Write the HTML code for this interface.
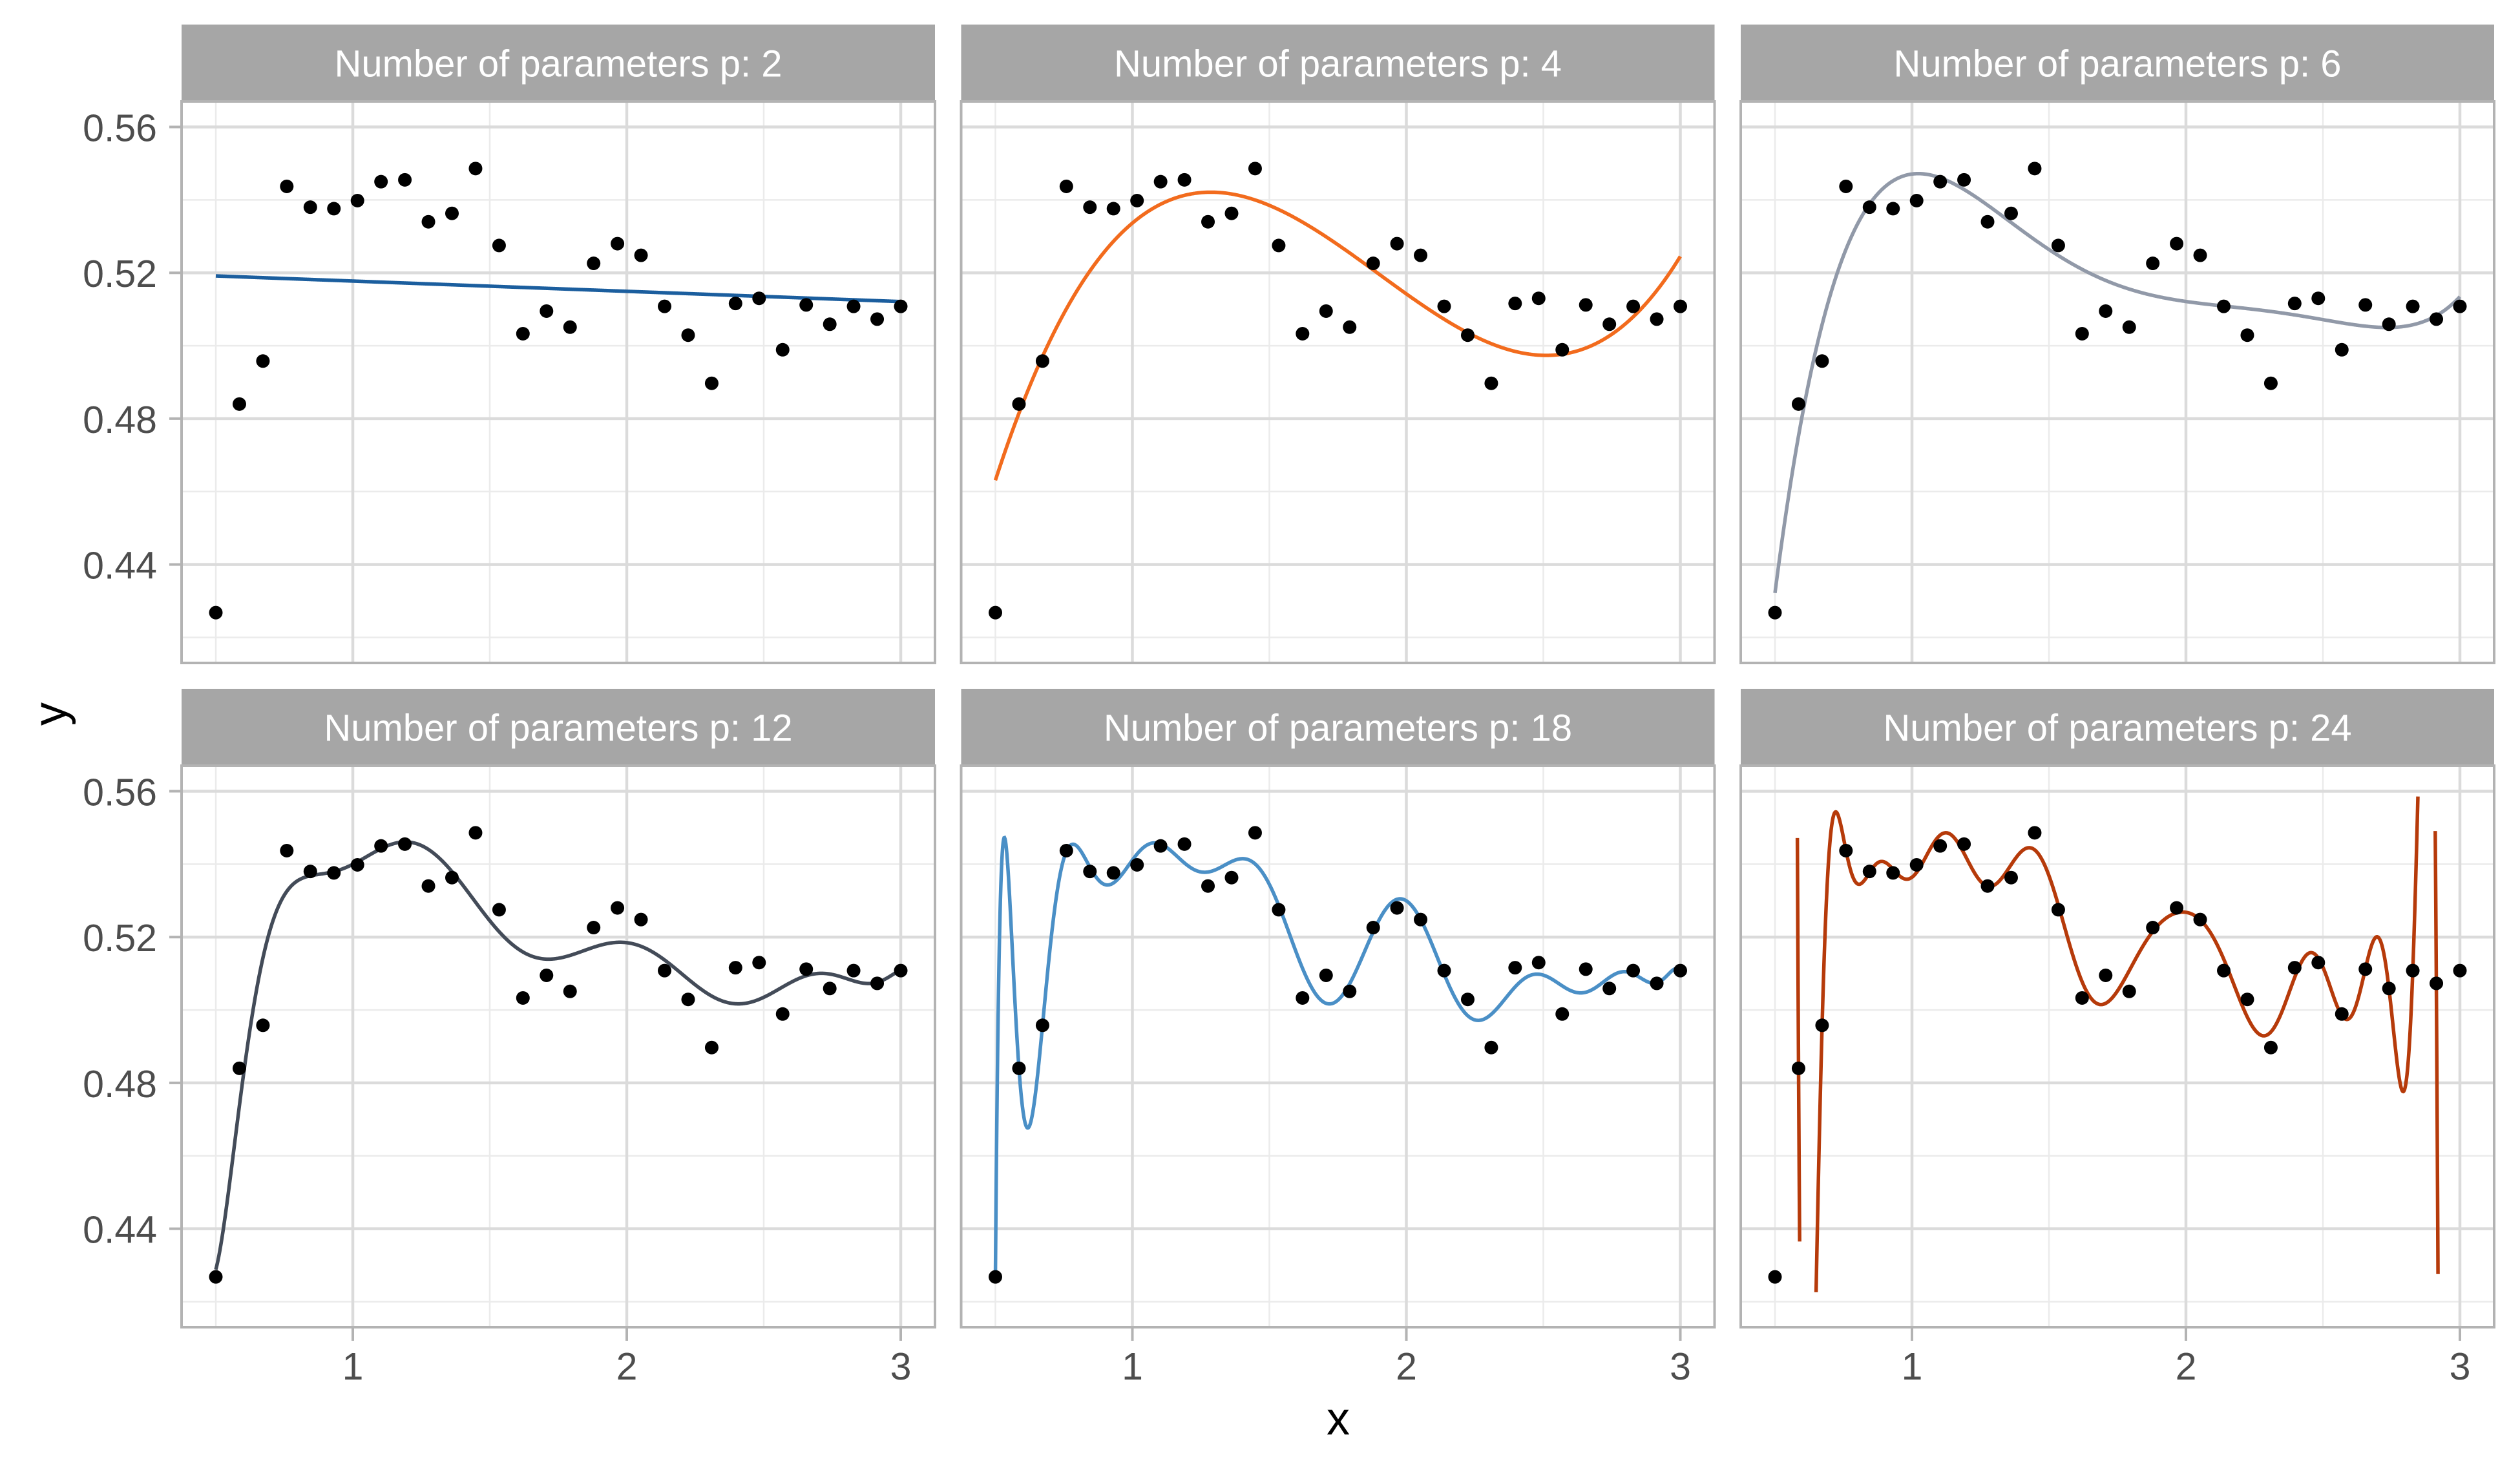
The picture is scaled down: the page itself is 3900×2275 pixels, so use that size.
<!DOCTYPE html>
<html><head><meta charset="utf-8"><style>
html,body{margin:0;padding:0;background:#fff;overflow:hidden;}
svg{display:block;font-family:"Liberation Sans",sans-serif;}
</style></head><body>
<svg id="chart" width="3900" height="2275" viewBox="0 0 3900 2275" xmlns="http://www.w3.org/2000/svg">
<rect x="0" y="0" width="3900" height="2275" fill="#fff"/>
<text x="2071" y="2220" font-size="72" text-anchor="middle" fill="#000">x</text>
<text x="102" y="1105" font-size="72" text-anchor="middle" fill="#000" transform="rotate(-90 102 1105)">y</text>
</svg>
<script>
const xValues = [0.5,0.586,0.672,0.759,0.845,0.931,1.017,1.103,1.190,1.276,1.362,1.448,1.534,1.621,1.707,1.793,1.879,1.966,2.052,2.138,2.224,2.310,2.397,2.483,2.569,2.655,2.741,2.828,2.914,3.0];
const yValues = [0.4268,0.484,0.4958,0.5437,0.538,0.5376,0.5398,0.545,0.5455,0.534,0.5363,0.5486,0.5275,0.5033,0.5095,0.5051,0.5226,0.528,0.5248,0.5108,0.5029,0.4897,0.5116,0.513,0.4989,0.5112,0.5059,0.5108,0.5073,0.5108];
const paramCounts = [2,4,6,12,18,24];
const lineColors = ['#1B5E9E','#F26B1D','#9199A8','#434B58','#4A8FC6','#B63A0A'];
const xTicks = [1,2,3];
const xTickLabels = ['1','2','3'];
const xMinor = [0.5,1.5,2.5];
const yTicks = [0.44,0.48,0.52,0.56];
const yTickLabels = ['0.44','0.48','0.52','0.56'];
const yMinor = [0.42,0.46,0.50,0.54];
const yLimits = [0.42,0.56];

const svg = document.getElementById('chart');
const NS = 'http://www.w3.org/2000/svg';
function mk(tag, attrs, parent){const e=document.createElementNS(NS,tag);for(const k in attrs)e.setAttribute(k,attrs[k]);(parent||svg).appendChild(e);return e;}

const colsX=[281,1487.5,2694], W=1166;
const rowsY=[{s:38,p:157,b:1026},{s:1066,p:1185,b:2054}];
const xDom=[0.375,3.125], yDom=[0.413,0.567];

function T(k,t){let a=1,b=t;if(k===0)return 1;for(let i=1;i<k;i++){const c=2*t*b-a;a=b;b=c;}return b;}
function tt(x){return (x-1.75)/1.25;}
function fit(p){
  const n=xValues.length;
  const A=[];for(let k=0;k<p;k++){A.push(xValues.map(x=>T(k,tt(x))));}
  const Q=[],R=[];for(let i=0;i<p;i++)R.push(new Array(p).fill(0));
  for(let k=0;k<p;k++){
    let v=A[k].slice();
    for(let pass=0;pass<2;pass++){for(let j=0;j<k;j++){let d=0;for(let i=0;i<n;i++)d+=Q[j][i]*v[i];R[j][k]+=d;for(let i=0;i<n;i++)v[i]-=d*Q[j][i];}}
    let nr=Math.sqrt(v.reduce((s,a)=>s+a*a,0));R[k][k]=nr;Q.push(v.map(a=>a/nr));
  }
  const qy=Q.map(q=>q.reduce((s,a,i)=>s+a*yValues[i],0));
  const c=new Array(p).fill(0);
  for(let k=p-1;k>=0;k--){let s=qy[k];for(let j=k+1;j<p;j++)s-=R[k][j]*c[j];c[k]=s/R[k][k];}
  return x=>{let s=0;const t=tt(x);for(let k=0;k<p;k++)s+=c[k]*T(k,t);return s;};
}

paramCounts.forEach((p,idx)=>{
  const col=idx%3,row=Math.floor(idx/3);
  const x0=colsX[col],r=rowsY[row],y0=r.p,y1=r.b;
  const sx=v=>x0+(v-xDom[0])/(xDom[1]-xDom[0])*W;
  const sy=v=>y1-(v-yDom[0])/(yDom[1]-yDom[0])*(y1-y0);
  const g=mk('g',{});
  
  
  const strip=mk('rect',{x:x0,y:r.s,width:W,height:r.p-r.s,fill:'#A6A6A6'},g);
  
  
  const st=mk('text',{x:x0+W/2,y:(r.s+r.p)/2+21,'font-size':58,fill:'#fff','text-anchor':'middle'},g);
  st.textContent='Number of parameters p: '+p;
  
  
  xMinor.forEach(v=>{const l=mk('line',{x1:sx(v),x2:sx(v),y1:y0,y2:y1,stroke:'#EBEBEB','stroke-width':2.5},g);});
  yMinor.forEach(v=>{const l=mk('line',{x1:x0,x2:x0+W,y1:sy(v),y2:sy(v),stroke:'#EBEBEB','stroke-width':2.5},g);});
  xTicks.forEach(v=>{const l=mk('line',{x1:sx(v),x2:sx(v),y1:y0,y2:y1,stroke:'#DBDBDB','stroke-width':4.5},g);});
  yTicks.forEach(v=>{const l=mk('line',{x1:x0,x2:x0+W,y1:sy(v),y2:sy(v),stroke:'#DBDBDB','stroke-width':4.5},g);});
  const f=fit(p);let d='',pen=false;
  for(let i=0;i<=1500;i++){const xv=0.5+2.5*i/1500;const yv=f(xv);
    if(yv<yLimits[0]||yv>yLimits[1]||!isFinite(yv)){pen=false;continue;}
    d+=(pen?'L':'M')+sx(xv).toFixed(2)+','+sy(yv).toFixed(2);pen=true;}
  const path=mk('path',{d:d,fill:'none',stroke:lineColors[idx],'stroke-width':5.5},g);
  
  
  xValues.forEach((xv,i)=>{const c=mk('circle',{cx:sx(xv),cy:sy(yValues[i]),r:10.5,fill:'#000'},g);});
  const bd=mk('rect',{x:x0,y:y0,width:W,height:y1-y0,fill:'none',stroke:'#B3B3B3','stroke-width':4},g);
  
  
  if(row===1){xTicks.forEach((v,i)=>{mk('line',{x1:sx(v),x2:sx(v),y1:y1,y2:y1+21,stroke:'#B3B3B3','stroke-width':4},g);const t=mk('text',{x:sx(v),y:2135,'font-size':59,fill:'#4D4D4D','text-anchor':'middle'},g);t.textContent=xTickLabels[i];});}
  if(col===0){yTicks.forEach((v,i)=>{mk('line',{x1:x0-19,x2:x0,y1:sy(v),y2:sy(v),stroke:'#B3B3B3','stroke-width':4},g);const t=mk('text',{x:243,y:sy(v)+22,'font-size':59,fill:'#4D4D4D','text-anchor':'end'},g);t.textContent=yTickLabels[i];});}
});
</script>
</body></html>
